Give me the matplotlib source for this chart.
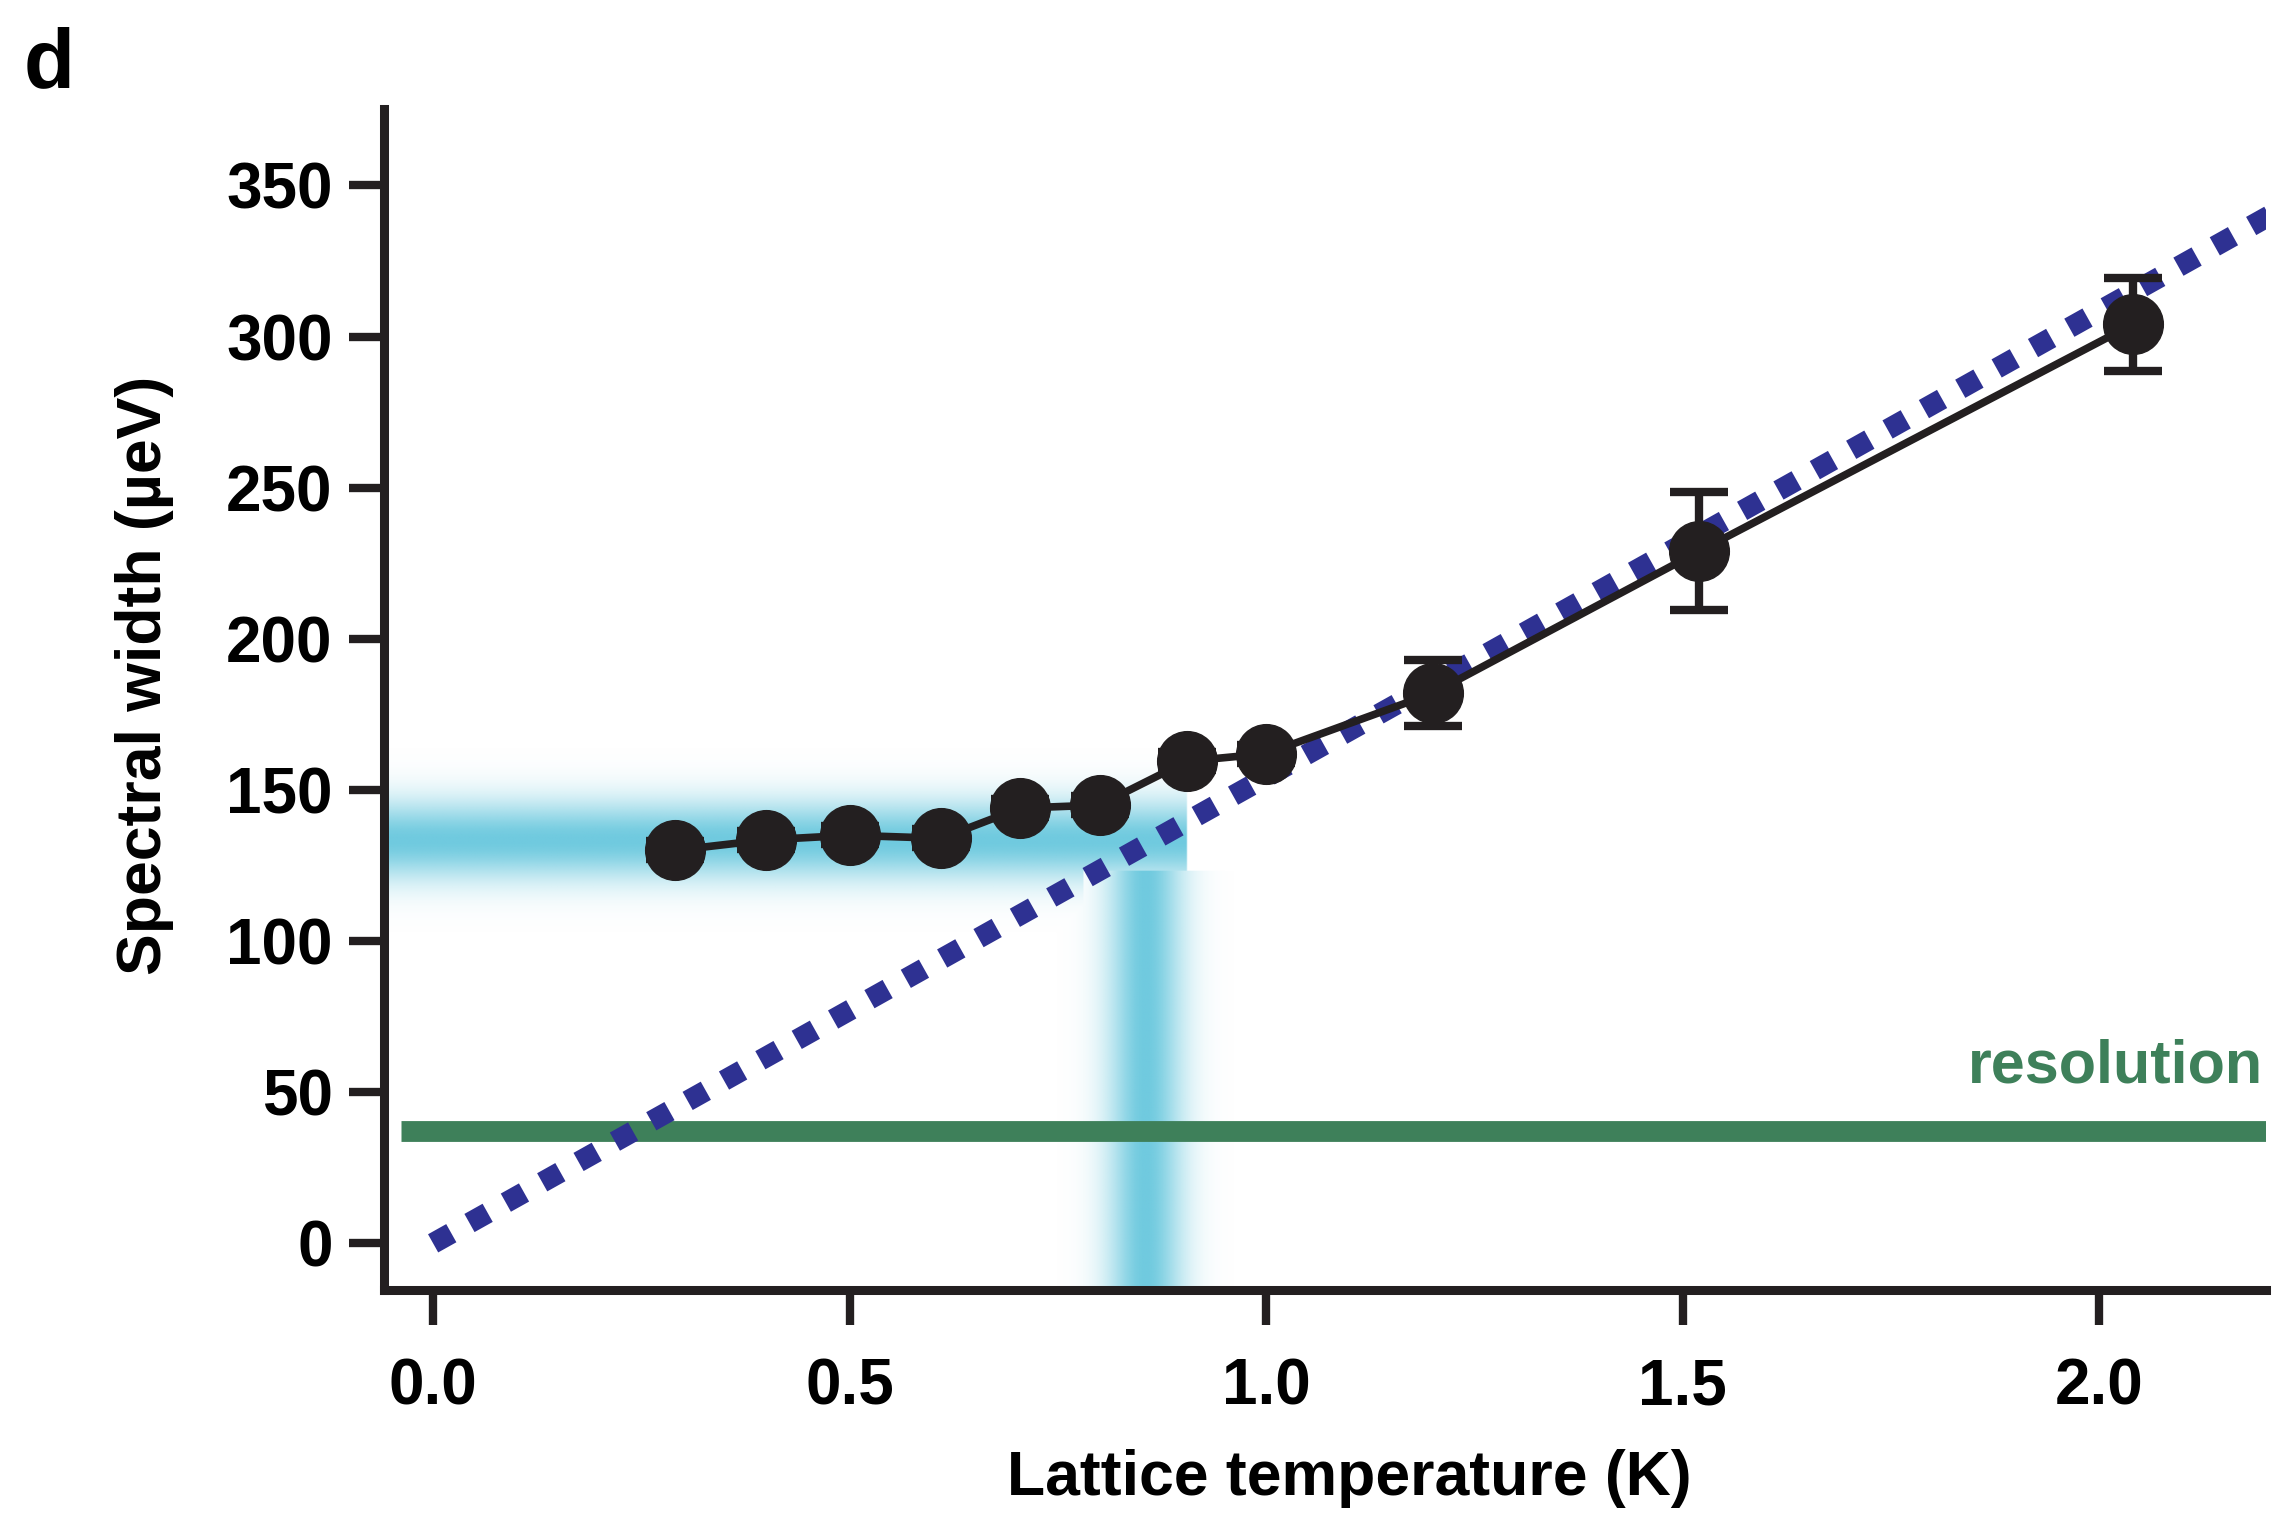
import numpy as np
import matplotlib
matplotlib.use('Agg')
from matplotlib import pyplot as plt
from matplotlib.colors import to_rgb

# measured spectral width vs lattice temperature
temperature = [0.29, 0.40, 0.50, 0.61, 0.705, 0.80, 0.905, 1.0, 1.2, 1.52, 2.04]
width = [130, 133.5, 135, 134, 144, 145, 159.5, 162, 182, 229, 304]
width_err = [3, 3, 3, 3, 3, 3, 3, 3, 11, 19.5, 15.5]

# linear model (dotted) and resolution limit
model_T = [0.0, 2.25]
model_W = [0.0, 347.0]
resolution = 37.2

# cyan guide bands: saturation width and crossover temperature
sat_width = 133.5
cross_T = 0.855
band_cut = 123.5

xticks = [0.0, 0.5, 1.0, 1.5, 2.0]
yticks = [0, 50, 100, 150, 200, 250, 300, 350]

plt.rcParams['font.family'] = ['Liberation Sans', 'DejaVu Sans']

fig = plt.figure(figsize=(22.72, 15.17), dpi=100)
ax = fig.add_axes([0.169, 0.1499, 0.8283, 0.7785])
xlim = (-0.059, 2.2)
ylim = (-15.3, 375.4)

# gradient bands drawn as one RGBA image
gx = np.linspace(xlim[0], xlim[1], 1200)
gy = np.linspace(ylim[0], ylim[1], 800)
X, Y = np.meshgrid(gx, gy)
a_h = np.exp(-((Y - sat_width) / 13.0) ** 2)
a_h[X > 0.905] = 0
a_h[(X > 0.78) & (Y < band_cut)] = 0
a_v = np.exp(-((X - cross_T) / 0.045) ** 2)
a_v[Y > band_cut] = 0
alpha = np.maximum(a_h, a_v)
rgba = np.zeros(X.shape + (4,))
rgba[..., :3] = to_rgb('#6FCADF')
rgba[..., 3] = alpha
ax.imshow(rgba, extent=[xlim[0], xlim[1], ylim[0], ylim[1]], origin='lower',
          aspect='auto', interpolation='bilinear', zorder=0)

ax.plot([-0.039, 2.3], [resolution, resolution], color='#3E805A', lw=15,
        solid_capstyle='butt', zorder=2)
ax.text(2.197, 53.3, 'resolution', color='#3E805A', fontsize=44,
        fontweight='bold', ha='right', va='baseline', zorder=3)

ax.plot(model_T, model_W, color='#2E3192', lw=15, linestyle=(0, (1, 1)),
        dash_capstyle='butt', zorder=3)

ax.errorbar(temperature, width, yerr=width_err, color='#231F20', lw=5.5,
            marker='o', markersize=43, elinewidth=6, capsize=21, capthick=6,
            zorder=4)

ax.set_xlim(*xlim)
ax.set_ylim(*ylim)
ax.set_xticks(xticks)
ax.set_xticklabels([f'{t:.1f}' for t in xticks])
ax.set_yticks(yticks)
for s in ['top', 'right']:
    ax.spines[s].set_visible(False)
for s in ['left', 'bottom']:
    ax.spines[s].set_linewidth(6.5)
    ax.spines[s].set_color('#231F20')
ax.tick_params(axis='both', length=25, width=6, color='#231F20',
               labelsize=46, direction='out')
ax.tick_params(axis='x', pad=24)
ax.tick_params(axis='y', pad=12)
for lab in ax.get_xticklabels() + ax.get_yticklabels():
    lab.set_fontweight('bold')

ax.set_xlabel('Lattice temperature (K)', fontsize=45, fontweight='bold')
ax.set_ylabel('Spectral width (µeV)', fontsize=45, fontweight='bold')
ax.xaxis.label.set_va('center')
ax.yaxis.label.set_va('center')
ax.xaxis.set_label_coords(0.513, -0.16)
ax.yaxis.set_label_coords(-0.127, 0.52)

fig.text(24 / 2272, 1 - 87 / 1517, 'd', fontsize=60, fontweight='bold',
         ha='left', va='baseline')

fig.savefig('out.png', dpi=100)
